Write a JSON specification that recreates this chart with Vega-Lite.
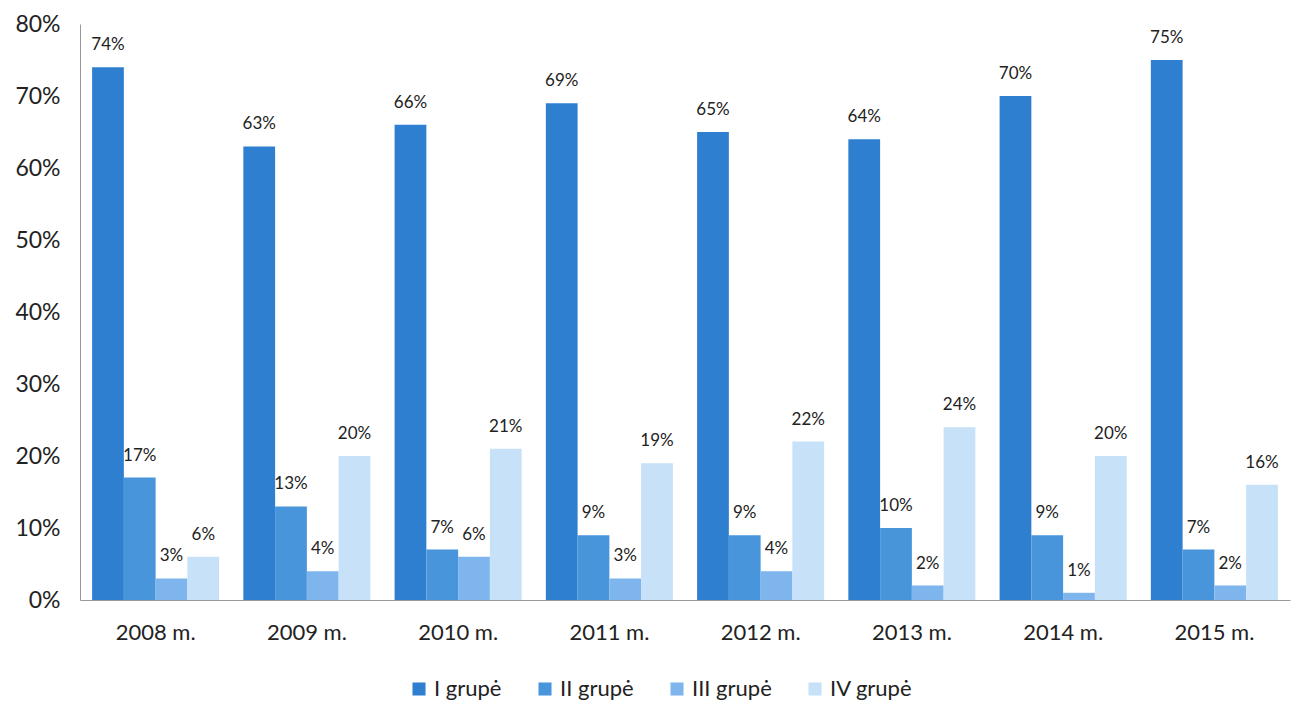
{
  "$schema": "https://vega.github.io/schema/vega-lite/v6.json",
  "autosize": "none",
  "width": 1210,
  "height": 576,
  "padding": {"left": 80, "top": 24, "right": 5, "bottom": 104},
  "background": "white",
  "config": {
    "font": "Lato",
    "view": {"stroke": null}
  },
  "data": {
    "values": [
      {"metai": "2008 m.", "grupe": "I grupė", "dalis": 0.74},
      {"metai": "2008 m.", "grupe": "II grupė", "dalis": 0.17},
      {"metai": "2008 m.", "grupe": "III grupė", "dalis": 0.03},
      {"metai": "2008 m.", "grupe": "IV grupė", "dalis": 0.06},
      {"metai": "2009 m.", "grupe": "I grupė", "dalis": 0.63},
      {"metai": "2009 m.", "grupe": "II grupė", "dalis": 0.13},
      {"metai": "2009 m.", "grupe": "III grupė", "dalis": 0.04},
      {"metai": "2009 m.", "grupe": "IV grupė", "dalis": 0.20},
      {"metai": "2010 m.", "grupe": "I grupė", "dalis": 0.66},
      {"metai": "2010 m.", "grupe": "II grupė", "dalis": 0.07},
      {"metai": "2010 m.", "grupe": "III grupė", "dalis": 0.06},
      {"metai": "2010 m.", "grupe": "IV grupė", "dalis": 0.21},
      {"metai": "2011 m.", "grupe": "I grupė", "dalis": 0.69},
      {"metai": "2011 m.", "grupe": "II grupė", "dalis": 0.09},
      {"metai": "2011 m.", "grupe": "III grupė", "dalis": 0.03},
      {"metai": "2011 m.", "grupe": "IV grupė", "dalis": 0.19},
      {"metai": "2012 m.", "grupe": "I grupė", "dalis": 0.65},
      {"metai": "2012 m.", "grupe": "II grupė", "dalis": 0.09},
      {"metai": "2012 m.", "grupe": "III grupė", "dalis": 0.04},
      {"metai": "2012 m.", "grupe": "IV grupė", "dalis": 0.22},
      {"metai": "2013 m.", "grupe": "I grupė", "dalis": 0.64},
      {"metai": "2013 m.", "grupe": "II grupė", "dalis": 0.10},
      {"metai": "2013 m.", "grupe": "III grupė", "dalis": 0.02},
      {"metai": "2013 m.", "grupe": "IV grupė", "dalis": 0.24},
      {"metai": "2014 m.", "grupe": "I grupė", "dalis": 0.70},
      {"metai": "2014 m.", "grupe": "II grupė", "dalis": 0.09},
      {"metai": "2014 m.", "grupe": "III grupė", "dalis": 0.01},
      {"metai": "2014 m.", "grupe": "IV grupė", "dalis": 0.20},
      {"metai": "2015 m.", "grupe": "I grupė", "dalis": 0.75},
      {"metai": "2015 m.", "grupe": "II grupė", "dalis": 0.07},
      {"metai": "2015 m.", "grupe": "III grupė", "dalis": 0.02},
      {"metai": "2015 m.", "grupe": "IV grupė", "dalis": 0.16}
    ]
  },
  "encoding": {
    "x": {
      "field": "metai",
      "type": "nominal",
      "title": null,
      "scale": {"paddingInner": 0.16, "paddingOuter": 0.08},
      "axis": {
        "labelAngle": 0,
        "labelFontSize": 22,
        "labelColor": "#222",
        "labelPadding": 22,
        "ticks": false,
        "domainColor": "#999"
      }
    },
    "xOffset": {"field": "grupe", "type": "nominal", "sort": ["I grupė", "II grupė", "III grupė", "IV grupė"]},
    "y": {
      "field": "dalis",
      "type": "quantitative",
      "title": null,
      "scale": {"domain": [0, 0.8]},
      "axis": {
        "format": ".0%",
        "tickCount": 8,
        "grid": false,
        "ticks": false,
        "labelFontSize": 23,
        "labelColor": "#222",
        "labelPadding": 20,
        "domainColor": "#999"
      }
    }
  },
  "layer": [
    {
      "mark": {"type": "bar"},
      "encoding": {
        "color": {
          "field": "grupe",
          "type": "nominal",
          "sort": ["I grupė", "II grupė", "III grupė", "IV grupė"],
          "scale": {"range": ["#2f7fd0", "#4895dc", "#7db5ec", "#c6e1f8"]},
          "legend": {
            "title": null,
            "orient": "none",
            "legendX": 328,
            "legendY": 654,
            "direction": "horizontal",
            "symbolType": "square",
            "symbolSize": 170,
            "symbolStrokeWidth": 0,
            "labelFontSize": 22,
            "labelColor": "#222",
            "columnPadding": 32
          }
        }
      }
    },
    {
      "mark": {"type": "text", "baseline": "bottom", "dy": -13, "fontSize": 17, "color": "#222"},
      "encoding": {
        "text": {"field": "dalis", "type": "quantitative", "format": ".0%"}
      }
    }
  ]
}
